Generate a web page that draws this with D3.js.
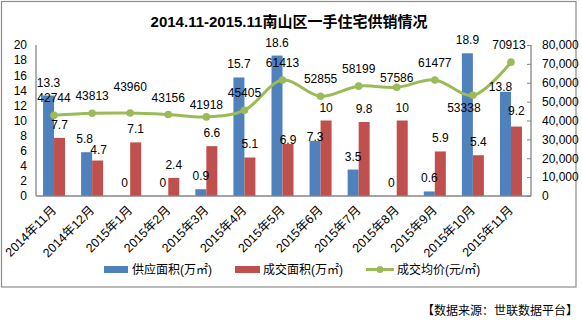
<!DOCTYPE html>
<html><head><meta charset="utf-8">
<script src="https://cdn.jsdelivr.net/npm/d3@7"></script>
<style>
html,body{margin:0;padding:0;background:#fff;}
svg text{font-family:"Liberation Sans","Noto Sans CJK SC",sans-serif;}
</style></head>
<body><svg id="c" width="582" height="323"></svg>
<script>
const categories = ["2014年11月","2014年12月","2015年1月","2015年2月","2015年3月","2015年4月","2015年5月","2015年6月","2015年7月","2015年8月","2015年9月","2015年10月","2015年11月"];
const supply = [13.3,5.8,0,0,0.9,15.7,18.6,7.3,3.5,0,0.6,18.9,13.8];
const deal = [7.7,4.7,7.1,2.4,6.6,5.1,6.9,10,9.8,10,5.9,5.4,9.2];
const price = [42744,43813,43960,43156,41918,45405,61413,52855,58199,57586,61477,53338,70913];
const leftTicks = [0,2,4,6,8,10,12,14,16,18,20];
const rightTicks = [0,10000,20000,30000,40000,50000,60000,70000,80000];
const seriesNames = ["供应面积(万㎡)","成交面积(万㎡)","成交均价(元/㎡)"];
const title = "2014.11-2015.11南山区一手住宅供销情况";
const source = "【数据来源：世联数据平台】";

// label placement tweaks (pixel offsets, separate from data)
const supplyLabelDy = [-9,-9,-9,-9,-9,-9,-9,0,-9,-9,-9,-9,-1];
const supplyLabelDx = [0,-2,0,0,0,0,0,0,0,0,0,0,-5];
const dealLabelDy = [-9,-7,-9,-9,-9,-9,0,-9,-9,-9,-9,-9,-12];
const dealLabelDx = [0,1,0,0,0,0,0,0,0,0,0,0,0];
const priceLabelDy = [-13,-13,-22,-13,-8,-13,-13,-13,-13,-5,-13,17,-13];
const priceLabelDx = [0,0,0,0,0,0,0,0,0,0,0,-9,-2];

const C = {blue:"#4F81BD", red:"#C0504D", green:"#9BBB59", axis:"#868686"};
const svg = d3.select("#c");
const L = 36, R = 531, T = 45, B = 196;

// outer frame
svg.append("rect").attr("x",1.5).attr("y",1.5).attr("width",574.5).attr("height",285.5)
  .attr("fill","none").attr("stroke","#8c8c8c").attr("stroke-width",1.2);

svg.append("text").attr("x",289).attr("y",27).attr("text-anchor","middle")
  .attr("font-size",15).attr("font-weight","bold").attr("fill","#000").text(title);

const x = d3.scaleBand().domain(categories).range([L,R]).padding(0);
const groupW = 22;
const xs = d3.scaleBand().domain(["s","d"]).range([0,groupW]);
const yL = d3.scaleLinear().domain([0,20]).range([B,T]);
const yR = d3.scaleLinear().domain([0,80000]).range([B,T]);
const gx = c => x(c) + x.bandwidth()/2 - 1 - groupW/2;

// bars
const bars = svg.append("g");
bars.selectAll(".s").data(supply).join("rect")
  .attr("x",(d,i)=>gx(categories[i])+xs("s")).attr("width",xs.bandwidth())
  .attr("y",d=>yL(d)).attr("height",d=>B-yL(d)).attr("fill",C.blue);
bars.selectAll(".d").data(deal).join("rect")
  .attr("x",(d,i)=>gx(categories[i])+xs("d")).attr("width",xs.bandwidth())
  .attr("y",d=>yL(d)).attr("height",d=>B-yL(d)).attr("fill",C.red);

// axes
const axL = svg.append("g").attr("transform",`translate(${L},0)`)
  .call(d3.axisLeft(yL).tickValues(leftTicks).tickSize(0).tickPadding(9));
const axR = svg.append("g").attr("transform",`translate(${R},0)`)
  .call(d3.axisRight(yR).tickValues(rightTicks).tickSize(-4).tickPadding(11));
const axB = svg.append("g").attr("transform",`translate(0,${B})`)
  .call(d3.axisBottom(x).tickSize(0).tickFormat(""));
[axL,axR,axB].forEach(a=>{
  a.select(".domain").attr("stroke",C.axis).attr("stroke-width",1.3);
  a.selectAll(".tick line").attr("stroke",C.axis);
  a.selectAll("text").attr("font-size",12).attr("fill","#000")
   .attr("font-family",'"Liberation Sans","Noto Sans CJK SC",sans-serif');
});
axL.select(".domain").attr("d",`M0,${T}V${B}`);
axR.select(".domain").attr("d",`M0,${T}V${B}`);
axB.select(".domain").attr("d",`M${L},0H${R}`);

// x labels
svg.append("g").selectAll("text").data(categories).join("text")
  .attr("transform",c=>`translate(${x(c)+x.bandwidth()/2+2},${B+15}) rotate(-45)`)
  .attr("text-anchor","end").attr("font-size",12.5).attr("fill","#000").text(d=>d);

// line
const cx = i => x(categories[i]) + x.bandwidth()/2 - 1;
const line = d3.line().x((d,i)=>cx(i)).y(d=>yR(d)).curve(d3.curveCatmullRom.alpha(0.5));
svg.append("path").datum(price).attr("d",line).attr("fill","none")
  .attr("stroke",C.green).attr("stroke-width",3);
svg.append("g").selectAll("circle").data(price).join("circle")
  .attr("cx",(d,i)=>cx(i)).attr("cy",d=>yR(d)).attr("r",3.8).attr("fill",C.green);

// data labels
const lab = svg.append("g").attr("font-size",12).attr("fill","#000").attr("text-anchor","middle");
lab.selectAll(".ls").data(supply).join("text")
  .attr("x",(d,i)=>gx(categories[i])+xs("s")+xs.bandwidth()/2+supplyLabelDx[i])
  .attr("y",(d,i)=>yL(d)+supplyLabelDy[i]).text(d=>d);
lab.selectAll(".ld").data(deal).join("text")
  .attr("x",(d,i)=>gx(categories[i])+xs("d")+xs.bandwidth()/2+dealLabelDx[i])
  .attr("y",(d,i)=>yL(d)+dealLabelDy[i]).text(d=>d);
lab.selectAll(".lp").data(price).join("text")
  .attr("x",(d,i)=>cx(i)+priceLabelDx[i])
  .attr("y",(d,i)=>yR(d)+priceLabelDy[i]).text(d=>d);

// legend
const lg = svg.append("g").attr("font-size",12).attr("fill","#000");
lg.append("rect").attr("x",104).attr("y",266).attr("width",24).attr("height",7).attr("fill",C.blue);
lg.append("text").attr("x",132).attr("y",274).text(seriesNames[0]);
lg.append("rect").attr("x",235).attr("y",266).attr("width",25).attr("height",7).attr("fill",C.red);
lg.append("text").attr("x",263).attr("y",274).text(seriesNames[1]);
lg.append("line").attr("x1",366).attr("x2",394).attr("y1",269.5).attr("y2",269.5).attr("stroke",C.green).attr("stroke-width",3);
lg.append("circle").attr("cx",380).attr("cy",269.5).attr("r",3.5).attr("fill",C.green);
lg.append("text").attr("x",397).attr("y",274).text(seriesNames[2]);

svg.append("text").attr("x",578).attr("y",315).attr("text-anchor","end")
  .attr("font-size",12).attr("fill","#000").text(source);
</script></body></html>
